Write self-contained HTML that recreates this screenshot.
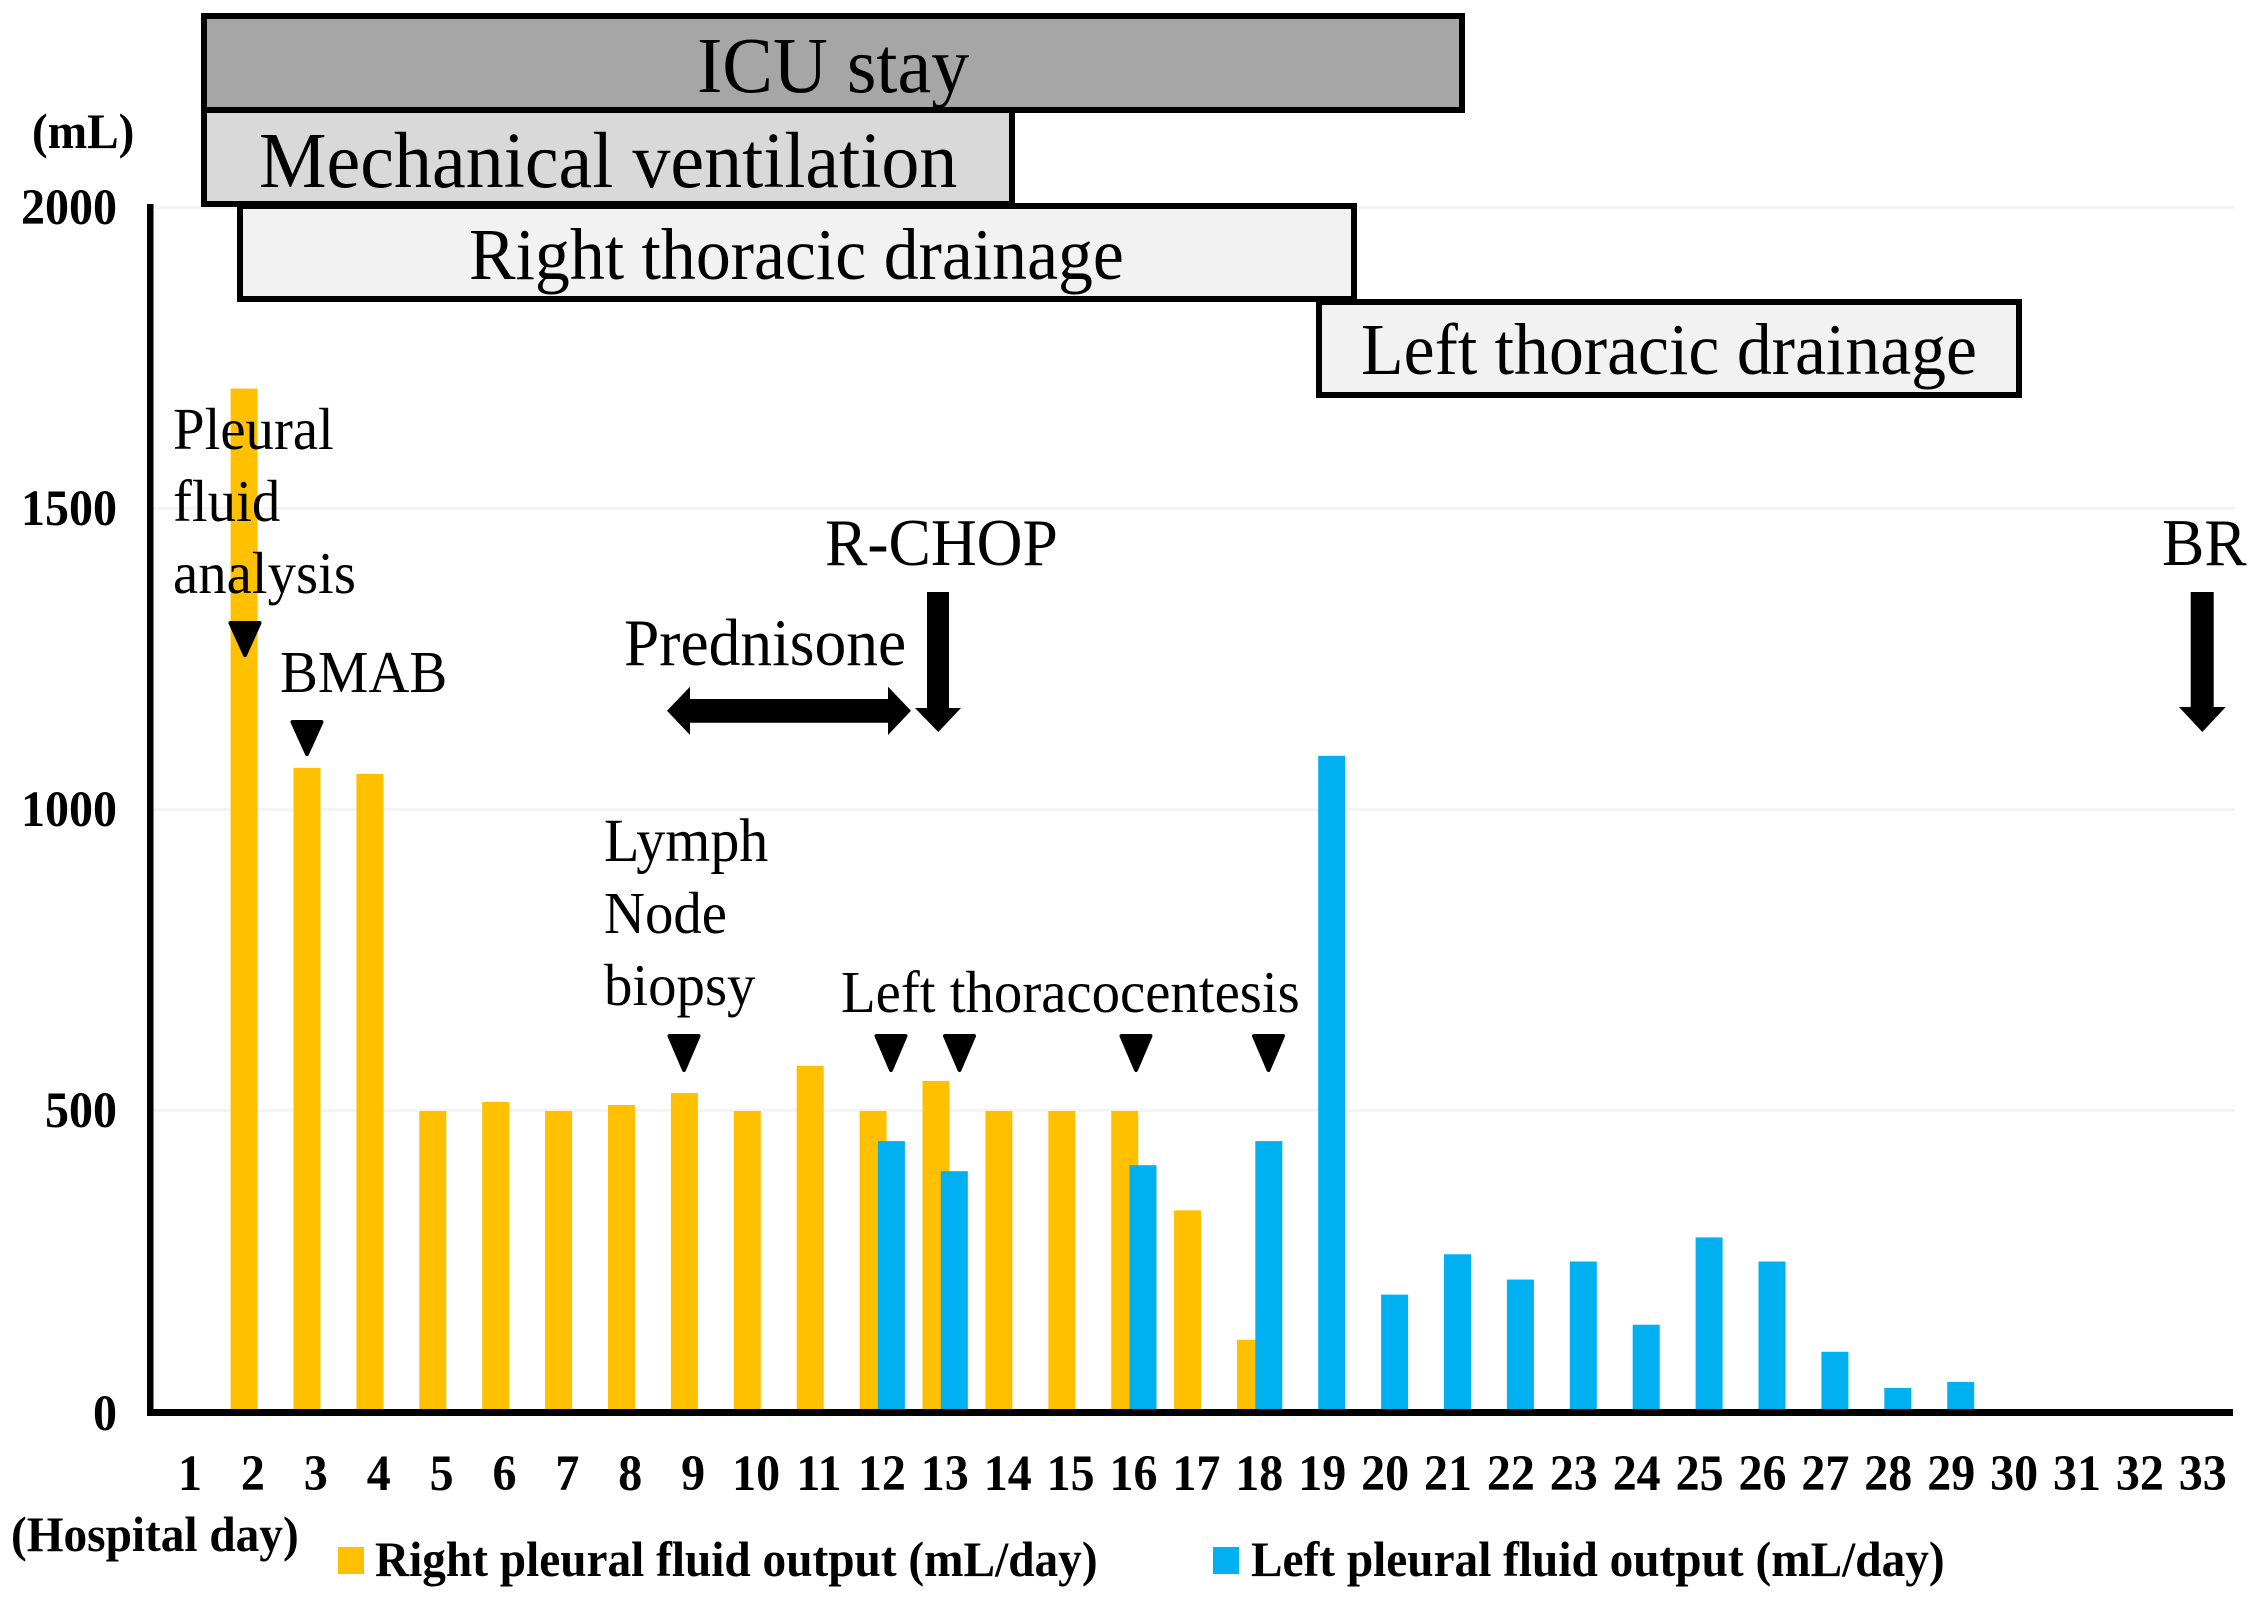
<!DOCTYPE html>
<html>
<head>
<meta charset="utf-8">
<title>Pleural fluid output by hospital day</title>
<style>
html,body{margin:0;padding:0;background:#fff;}
svg{display:block;}
text{font-family:"Liberation Serif",serif;fill:#000;}
.big{font-size:76px;}
.big2{font-size:69.8px;}
.mid{font-size:63.5px;}
.note{font-size:56.8px;}
.bold{font-size:47.3px;font-weight:bold;}
.tick{font-size:48px;font-weight:bold;}
</style>
</head>
<body>
<svg id="chart" xmlns="http://www.w3.org/2000/svg" width="2259" height="1606" viewBox="0 0 2259 1606">
  <rect x="0" y="0" width="2259" height="1606" fill="#fff"/>
  <g id="grid"></g>
  <g id="bars"></g>
  <g id="yticks"></g>
  <g id="xticks"></g>
  <rect x="147" y="204" width="6.5" height="1212" fill="#000"/>
  <rect x="147" y="1409" width="2086" height="7" fill="#000"/>

  <text class="bold" x="32" y="148">(mL)</text>
  <text class="bold" x="11" y="1551">(Hospital day)</text>

  <g>
    <rect x="240" y="206" width="1114" height="93" fill="#f2f2f2" stroke="#000" stroke-width="6"/>
    <rect x="1319" y="302" width="700" height="93" fill="#f2f2f2" stroke="#000" stroke-width="6"/>
    <rect x="204" y="110" width="808" height="94" fill="#d9d9d9" stroke="#000" stroke-width="6"/>
    <rect x="204" y="16" width="1258" height="94" fill="#a6a6a6" stroke="#000" stroke-width="6"/>
    <text class="big" x="697" y="92">ICU stay</text>
    <text class="big" x="259" y="187">Mechanical ventilation</text>
    <text class="big2" x="469" y="279">Right thoracic drainage</text>
    <text class="big2" x="1361" y="374">Left thoracic drainage</text>
  </g>

  <g>
    <text class="note" x="173" y="449">Pleural</text>
    <text class="note" x="173" y="521">fluid</text>
    <text class="note" x="173" y="593">analysis</text>
  </g>
  <text class="note" x="280" y="692">BMAB</text>
  <text class="mid" x="624" y="665">Prednisone</text>
  <text class="mid" x="825" y="565">R-CHOP</text>
  <text class="mid" x="2162" y="565">BR</text>
  <g>
    <text class="note" style="font-size:58px" x="604" y="861">Lymph</text>
    <text class="note" x="604" y="933">Node</text>
    <text class="note" x="604" y="1005">biopsy</text>
  </g>
  <text class="note" x="841" y="1012">Left thoracocentesis</text>

  <g fill="#000" stroke="#000" stroke-width="4" stroke-linejoin="round">
    <polygon points="230.500,623 259.500,623 245,655"/>
    <polygon points="292.500,722 321.500,722 307,754"/>
    <polygon points="669.500,1036 698.500,1036 684,1070"/>
    <polygon points="876.500,1036 905.500,1036 891,1070"/>
    <polygon points="945,1036 974,1036 959.500,1070"/>
    <polygon points="1121.500,1036 1150.500,1036 1136,1070"/>
    <polygon points="1254,1036 1283,1036 1268.500,1070"/>
  </g>

  <polygon fill="#000" points="667,710.700 690,686.700 690,699 888,699 888,686.700 911,710.700 888,735 888,722.700 690,722.700 690,735"/>
  <polygon fill="#000" points="927,592 949,592 949,708 961,708 938.300,732 915,708 927,708"/>
  <polygon fill="#000" points="2190.700,592 2213.700,592 2213.700,707 2225.700,707 2202.300,732 2179,707 2190.700,707"/>

  <g>
    <rect x="338" y="1547" width="26" height="27" fill="#ffc000"/>
    <text class="bold" x="375" y="1576">Right pleural fluid output (mL/day)</text>
    <rect x="1213" y="1547" width="26" height="27" fill="#00b0f0"/>
    <text class="bold" x="1251" y="1576">Left pleural fluid output (mL/day)</text>
  </g>
</svg>
<script>
var days = [1,2,3,4,5,6,7,8,9,10,11,12,13,14,15,16,17,18,19,20,21,22,23,24,25,26,27,28,29,30,31,32,33];
var rightOutput = [null,1700,1070,1060,500,515,500,510,530,500,575,500,550,500,500,500,335,120,null,null,null,null,null,null,null,null,null,null,null,null,null,null,null];
var leftOutput = [null,null,null,null,null,null,null,null,null,null,null,450,400,null,null,410,null,450,1090,195,262,220,250,145,290,250,100,40,50,null,null,null,null];
var yTickValues = [0,500,1000,1500,2000];

var NS = 'http://www.w3.org/2000/svg';
function yScale(v){ return 1412 - v * 0.602; }
function dayCenter(d){ return 181.2 + 62.9 * (d - 1); }
function labelCenter(d){ return 190 + 62.9 * (d - 1); }
function make(tag, parent){
  var el = document.createElementNS(NS, tag);
  parent.appendChild(el);
  return el;
}

var gridGroup = document.getElementById('grid');
var yGroup = document.getElementById('yticks');
var xGroup = document.getElementById('xticks');
var barGroup = document.getElementById('bars');

yTickValues.forEach(function(v){
  if (v > 0) {
    var line = make('rect', gridGroup);
    
    
    line.setAttribute('x', 153);
    line.setAttribute('y', yScale(v) - 2);
    line.setAttribute('width', 2082);
    line.setAttribute('height', 3);
    line.setAttribute('fill', '#f4f4f4');
  }
  var label = make('text', yGroup);
  
  
  label.setAttribute('class', 'tick');
  label.setAttribute('x', 117);
  label.setAttribute('y', yScale(v) + (v === 0 ? 18 : 16));
  label.setAttribute('text-anchor', 'end');
  label.textContent = String(v);
});

days.forEach(function(d){
  var label = make('text', xGroup);
  
  
  label.setAttribute('class', 'tick');
  label.setAttribute('x', labelCenter(d));
  label.setAttribute('y', 1490);
  label.setAttribute('text-anchor', 'middle');
  label.textContent = String(d);
});

function drawBar(d, v, offset, color, side){
  if (v === null) { return; }
  var bar = make('rect', barGroup);
  
  
  bar.setAttribute('x', dayCenter(d) + offset - 13.5);
  bar.setAttribute('y', yScale(v));
  bar.setAttribute('width', 27);
  bar.setAttribute('height', yScale(0) - yScale(v));
  bar.setAttribute('fill', color);
}
days.forEach(function(d, i){ drawBar(d, rightOutput[i], 0, '#ffc000', 'right'); });
days.forEach(function(d, i){ drawBar(d, leftOutput[i], 18.3, '#00b0f0', 'left'); });

// The source lettering is about 5% taller than Liberation Serif at the same width.
var stretch = 1.05;
Array.prototype.forEach.call(document.querySelectorAll('#chart text'), function(t){
  var baseline = parseFloat(t.getAttribute('y'));
  t.setAttribute('transform', 'matrix(1 0 0 ' + stretch + ' 0 ' + (baseline * (1 - stretch)) + ')');
});
</script>
</body>
</html>
